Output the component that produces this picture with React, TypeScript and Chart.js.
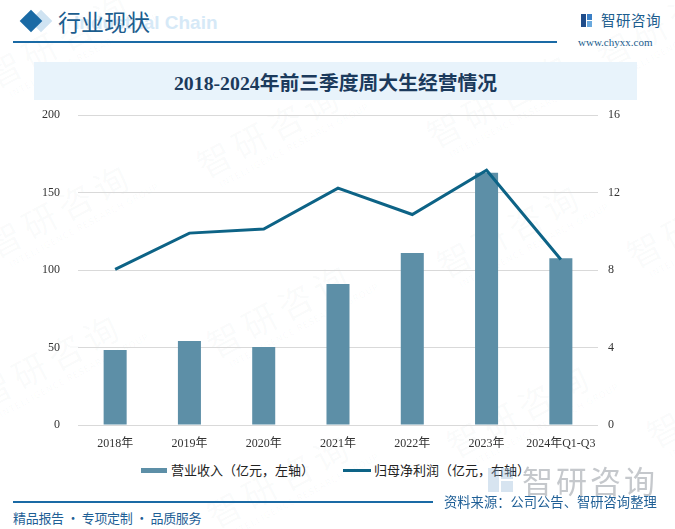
import React, { useEffect, useRef } from "react";
import { Chart, registerables } from "chart.js";

Chart.register(...registerables);

const categories = ["2018年", "2019年", "2020年", "2021年", "2022年", "2023年", "2024年Q1-Q3"];
const revenue = [48.4, 54.2, 50.3, 91.0, 111.0, 162.8, 107.7];
const netProfit = [8.04, 9.91, 10.12, 12.23, 10.87, 13.16, 8.55];
const leftTicks = [0, 50, 100, 150, 200];
const rightTicks = [0, 4, 8, 12, 16];

const BAR_COLOR = "#5d8fa7";
const LINE_COLOR = "#0d6386";
const DARK_BLUE = "#1c5d8e";
const TICK_FONT = "'Liberation Serif', 'Noto Sans CJK SC', serif";
const CJK = "'Noto Sans CJK SC', 'Noto Sans', sans-serif";

const watermarks = [
  { x: -20, y: 60 }, { x: 190, y: 150 }, { x: 420, y: 120 }, { x: 590, y: 40 },
  { x: -20, y: 230 }, { x: 200, y: 330 }, { x: 430, y: 250 }, { x: 620, y: 240 },
  { x: -30, y: 380 }, { x: 200, y: 500 }, { x: 440, y: 430 }, { x: 640, y: 420 },
];

function Watermark({ x, y }: { x: number; y: number }) {
  return (
    <div
      style={{
        position: "absolute",
        left: x,
        top: y,
        transform: "rotate(-28deg)",
        transformOrigin: "left top",
        color: "rgba(120,130,145,0.045)",
        fontFamily: CJK,
        whiteSpace: "nowrap",
        pointerEvents: "none",
      }}
    >
      <div style={{ fontSize: 34, letterSpacing: 6, lineHeight: "38px" }}>智研咨询</div>
      <div style={{ fontSize: 9, letterSpacing: 1, marginLeft: 10 }}>INTELLIGENCE RESEARCH GROUP</div>
    </div>
  );
}

export default function App() {
  const canvasRef = useRef<HTMLCanvasElement | null>(null);

  useEffect(() => {
    document.body.style.margin = "0";
    const ctx = canvasRef.current!;
    const chart = new Chart(ctx, {
      type: "bar",
      data: {
        labels: categories,
        datasets: [
          {
            type: "line",
            label: "归母净利润（亿元，右轴）",
            data: netProfit,
            yAxisID: "y1",
            borderColor: LINE_COLOR,
            backgroundColor: LINE_COLOR,
            borderWidth: 3,
            pointRadius: 0,
            tension: 0,
            order: 0,
          } as any,
          {
            type: "bar",
            label: "营业收入（亿元，左轴）",
            data: revenue,
            yAxisID: "y",
            backgroundColor: BAR_COLOR,
            categoryPercentage: 1,
            barPercentage: 0.31,
            order: 1,
          } as any,
        ],
      },
      options: {
        animation: false,
        responsive: false,
        maintainAspectRatio: false,
        layout: { padding: { top: 0, left: 0, right: 0, bottom: 0 } },
        plugins: {
          legend: { display: false },
          tooltip: { enabled: false },
        },
        scales: {
          x: {
            offset: true,
            grid: { display: false, drawTicks: false },
            border: { display: false },
            ticks: {
              padding: 12,
              color: "#333333",
              font: { family: TICK_FONT, size: 12 },
              maxRotation: 0,
              autoSkip: false,
            },
            afterFit: (s: any) => {
              s.height = 35;
            },
          },
          y: {
            position: "left",
            min: 0,
            max: 200,
            afterBuildTicks: (s: any) => {
              s.ticks = leftTicks.map((v) => ({ value: v }));
            },
            grid: { color: "#d9d9d9", lineWidth: 1, drawTicks: false },
            border: { display: false },
            ticks: {
              padding: 18,
              color: "#333333",
              font: { family: TICK_FONT, size: 12 },
            },
            afterFit: (s: any) => {
              s.width = 78;
            },
          },
          y1: {
            position: "right",
            min: 0,
            max: 16,
            afterBuildTicks: (s: any) => {
              s.ticks = rightTicks.map((v) => ({ value: v }));
            },
            grid: { display: false, drawTicks: false },
            border: { display: false },
            ticks: {
              padding: 10,
              color: "#333333",
              font: { family: TICK_FONT, size: 12 },
            },
            afterFit: (s: any) => {
              s.width = 77;
            },
          },
        },
      },
    });
    return () => chart.destroy();
  }, []);

  return (
    <div
      style={{
        position: "fixed",
        left: 0,
        top: 0,
        width: 675,
        height: 529,
        background: "#ffffff",
        overflow: "hidden",
        fontFamily: CJK,
      }}
    >
      {watermarks.map((w, i) => (
        <Watermark key={i} x={w.x} y={w.y} />
      ))}

      {/* header diamonds */}
      <div style={{ position: "absolute", left: 33, top: 13, width: 16, height: 16, background: "#cfe3f2", transform: "rotate(45deg)" }} />
      <div style={{ position: "absolute", left: 23, top: 13, width: 16, height: 16, background: "#1a6aa5", transform: "rotate(45deg)" }} />
      <div
        style={{
          position: "absolute",
          left: 74,
          top: 12,
          fontFamily: "'Liberation Sans', Arial, sans-serif",
          fontWeight: "bold",
          fontSize: 19,
          color: "#d6e9f7",
          whiteSpace: "nowrap",
        }}
      >
        Industrial Chain
      </div>
      <div
        style={{
          position: "absolute",
          left: 58,
          top: 4,
          fontSize: 23,
          color: DARK_BLUE,
          fontFamily: CJK,
          lineHeight: "34px",
        }}
      >
        行业现状
      </div>
      <div style={{ position: "absolute", left: 13, top: 41, width: 544, height: 2, background: "#1a6aa5" }} />

      {/* logo */}
      <div style={{ position: "absolute", left: 581, top: 14, width: 11, height: 13 }}>
        <div style={{ position: "absolute", left: 0, top: 0, width: 5, height: 13, background: "#1f4c8a" }} />
        <div style={{ position: "absolute", left: 6, top: 0, width: 5, height: 6, background: "#3a7fc6" }} />
        <div style={{ position: "absolute", left: 6, top: 7, width: 5, height: 6, background: "#6aa9de" }} />
      </div>
      <div style={{ position: "absolute", left: 601, top: 10, fontSize: 14.5, color: DARK_BLUE, lineHeight: "20px", letterSpacing: 0.5 }}>
        智研咨询
      </div>
      <div
        style={{
          position: "absolute",
          left: 578,
          top: 35,
          fontSize: 11,
          color: DARK_BLUE,
          fontFamily: "'Liberation Serif', serif",
          lineHeight: "14px",
          whiteSpace: "nowrap",
        }}
      >
        www.chyxx.com
      </div>

      {/* title banner */}
      <div
        style={{
          position: "absolute",
          left: 34,
          top: 62,
          width: 603,
          height: 38,
          background: "#e8f3fb",
          display: "flex",
          alignItems: "center",
          justifyContent: "center",
          fontFamily: "'Liberation Serif', 'Noto Sans CJK SC', serif",
          fontWeight: "bold",
          fontSize: 19.8,
          color: "#1b3a5c",
        }}
      >
        2018-2024年前三季度周大生经营情况
      </div>

      {/* chart */}
      <canvas
        ref={canvasRef}
        width={675}
        height={370}
        style={{ position: "absolute", left: 0, top: 90, width: 675, height: 370 }}
      />

      {/* legend */}
      <div style={{ position: "absolute", left: 141, top: 468, width: 26, height: 5, background: BAR_COLOR }} />
      <div style={{ position: "absolute", left: 171, top: 460, fontSize: 13, color: "#222", lineHeight: "20px", whiteSpace: "nowrap" }}>
        营业收入（亿元，左轴）
      </div>
      <div style={{ position: "absolute", left: 343, top: 469, width: 28, height: 3, background: LINE_COLOR }} />
      <div style={{ position: "absolute", left: 374, top: 460, fontSize: 13, color: "#222", lineHeight: "20px", whiteSpace: "nowrap" }}>
        归母净利润（亿元，右轴）
      </div>

      {/* gray logo bottom right */}
      <div style={{ position: "absolute", left: 488, top: 468, width: 26, height: 24, opacity: 0.35 }}>
        <div style={{ position: "absolute", left: 0, top: 0, width: 11, height: 24, background: "#8fb3d6" }} />
        <div style={{ position: "absolute", left: 13, top: 0, width: 12, height: 11, background: "#8fb3d6" }} />
        <div style={{ position: "absolute", left: 13, top: 13, width: 12, height: 11, background: "#8fb3d6" }} />
      </div>
      <div
        style={{
          position: "absolute",
          left: 522,
          top: 460,
          fontSize: 31,
          color: "rgba(150,155,162,0.55)",
          lineHeight: "40px",
          letterSpacing: 3,
          whiteSpace: "nowrap",
        }}
      >
        智研咨询
      </div>

      {/* footer */}
      <div style={{ position: "absolute", left: 13, top: 501, width: 420, height: 2, background: "#1a6aa5" }} />
      <div style={{ position: "absolute", left: 444, top: 492, fontSize: 13.3, color: "#1f5f96", lineHeight: "20px", whiteSpace: "nowrap" }}>
        资料来源：公司公告、智研咨询整理
      </div>
      <div style={{ position: "absolute", left: 13, top: 508, fontSize: 13, color: "#1f5f96", lineHeight: "20px", whiteSpace: "nowrap", letterSpacing: -0.3 }}>
        精品报告 · 专项定制 · 品质服务
      </div>
    </div>
  );
}
